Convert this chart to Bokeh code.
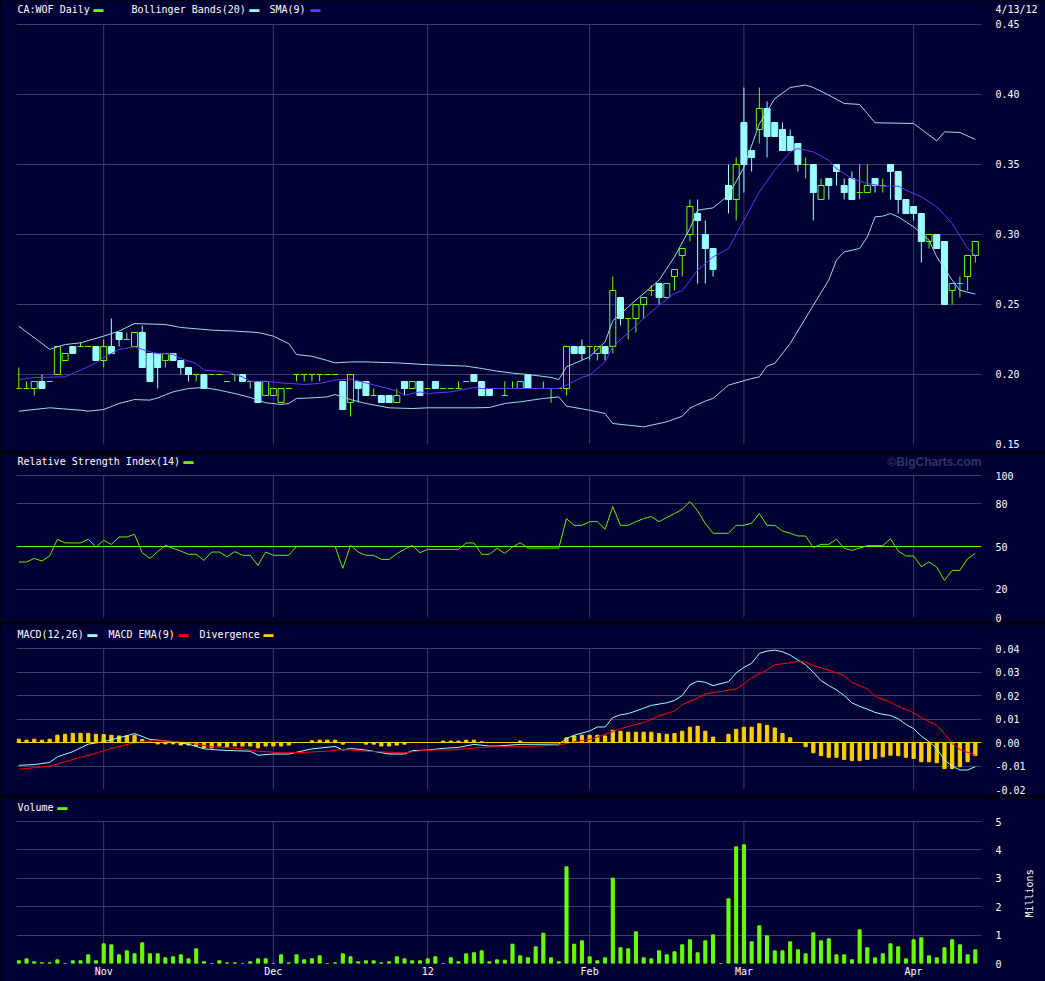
import numpy as np
from bokeh.plotting import figure
from bokeh.layouts import column
from bokeh.models import Range1d, FixedTicker, Span, Label, PrintfTickFormatter, LinearAxis
from bokeh.embed import file_html
from bokeh.resources import INLINE

# ---------------- data ----------------
# trading-day index (0 = Oct 17 2011 ... 124 = Apr 13 2012); day 91 had no trade
DAYS = [i for i in range(125) if i != 91]
OPEN = [.19,.19,.19,.195,.195,.20,.21,.22,.22,.22,.22,.21,.22,.23,.225,.22,.23,.215,.215,.21,
        .215,.21,.205,.20,.20,.20,.20,.195,.20,.20,.195,.195,.185,.185,.18,.19,.20,.20,.20,.20,
        .20,.20,.195,.18,.195,.195,.185,.185,.185,.18,.195,.19,.195,.19,.195,.19,.19,.19,.195,.20,
        .195,.19,.19,.185,.19,.19,.20,.19,.19,.19,.19,.19,.22,.22,.22,.215,.22,.22,.255,.24,
        .24,.25,.26,.265,.255,.27,.285,.30,.315,.30,.29,
        .335,.325,.38,.36,.375,.39,.38,.375,.37,.365,.35,.35,.325,.34,.35,.335,.34,.33,.33,.34,
        .335,.35,.345,.325,.32,.315,.295,.30,.295,.26,.265,.27,.285]
HIGH = [.205,.195,.195,.20,.195,.22,.215,.22,.223,.22,.22,.225,.24,.23,.23,.23,.235,.215,.215,.215,
        .215,.21,.205,.20,.20,.20,.20,.195,.20,.20,.195,.195,.195,.19,.19,.19,.20,.20,.20,.20,
        .20,.20,.195,.20,.195,.195,.19,.185,.185,.19,.195,.195,.195,.19,.195,.19,.19,.195,.195,.20,
        .195,.19,.19,.195,.195,.195,.20,.19,.195,.19,.19,.22,.22,.225,.22,.22,.22,.27,.255,.24,
        .25,.255,.264,.265,.265,.275,.29,.325,.325,.31,.29,
        .35,.355,.405,.36,.405,.395,.38,.38,.375,.365,.355,.35,.34,.34,.35,.34,.345,.35,.35,.34,
        .34,.35,.345,.325,.32,.315,.30,.30,.295,.265,.27,.285,.295]
LOW = [.19,.19,.185,.19,.195,.20,.21,.215,.22,.22,.21,.205,.215,.22,.225,.22,.205,.195,.19,.205,
       .21,.20,.195,.195,.19,.20,.20,.195,.195,.195,.19,.18,.185,.185,.18,.19,.195,.195,.195,.195,
       .20,.20,.175,.17,.18,.185,.185,.18,.18,.18,.185,.19,.185,.19,.19,.19,.19,.19,.195,.195,
       .185,.185,.19,.185,.19,.19,.19,.19,.19,.18,.19,.185,.215,.21,.21,.21,.21,.215,.235,.225,
       .23,.24,.256,.25,.255,.26,.27,.295,.265,.265,.27,
       .315,.31,.33,.345,.365,.355,.37,.36,.36,.345,.34,.31,.325,.325,.335,.325,.325,.325,.33,.33,
       .33,.325,.315,.315,.31,.28,.29,.29,.25,.25,.255,.26,.28]
CLOSE = [.19,.19,.195,.19,.195,.22,.215,.215,.22,.22,.21,.22,.215,.225,.225,.23,.205,.195,.205,.215,
         .21,.205,.20,.20,.19,.20,.20,.195,.20,.195,.195,.18,.195,.19,.19,.19,.20,.20,.20,.20,
         .20,.20,.175,.20,.19,.185,.185,.18,.18,.185,.19,.195,.185,.19,.19,.19,.19,.19,.195,.195,
         .185,.185,.19,.185,.19,.195,.19,.19,.19,.19,.19,.22,.215,.215,.22,.22,.215,.26,.24,.24,
         .25,.255,.26,.255,.265,.275,.29,.32,.31,.29,.275,
         .325,.35,.35,.355,.39,.37,.37,.36,.36,.35,.35,.33,.335,.335,.345,.33,.325,.33,.335,.335,
         .335,.345,.325,.315,.315,.295,.30,.29,.25,.265,.265,.285,.295]

BB_UPPER = [(0,.2345),(4,.218),(6,.2214),(8,.2226),(11,.2274),(13,.231),(15,.2364),(19,.2357),
            (21,.2336),(25,.2317),(28,.231),(31,.23),(33,.2274),(35,.222),(36,.2143),(38,.213),
            (40,.21),(41,.2083),(43,.209),(45,.209),(49,.2083),(53,.207),(58,.206),(60,.2043),
            (62,.2024),(64,.201),(66,.20),(69,.1979),(70,.1964),(71,.2055),(74,.2126),(76,.2233),
            (77,.2383),(79,.2483),(83,.2674),(85,.284),(87,.3043),(88,.3174),(90,.319),(92,.328),
            (94,.348),(96,.379),(98,.397),(100,.405),(102,.4067),(103,.405),(105,.3995),(107,.3936),
            (109,.3929),(110,.3864),(111,.3798),(116,.3793),(119,.3669),(120,.3733),(122,.3729),
            (124,.3679)]
BB_LOWER = [(0,.1738),(4,.1762),(8,.1745),(9,.1738),(11,.175),(13,.1793),(15,.1821),(17,.1817),
            (18,.1833),(20,.1876),(22,.19),(24,.1907),(26,.1888),(28,.1864),(30,.1836),(32,.1798),
            (34,.1786),(35,.1793),(36,.1829),(38,.1833),(40,.184),(41,.1857),(43,.1821),(45,.1793),
            (48,.1762),(51,.1757),(53,.1762),(59,.1762),(61,.1764),(63,.1793),(65,.1805),(68,.1829),
            (70,.184),(71,.1774),(74,.1745),(76,.1721),(77,.165),(79,.1638),(81,.1626),(84,.1662),
            (86,.1702),(87,.176),(89,.181),(90,.1829),(92,.1924),(95,.1971),(96,.1983),(97,.206),
            (98,.2079),(100,.2221),(103,.2495),(105,.2674),(106,.2817),(107,.2876),(109,.29),
            (110,.2983),(111,.3126),(112,.3131),(113,.315),(114,.3126),(116,.3055),(117,.3007),
            (118,.296),(119,.284),(121,.2674),(122,.2602),(124,.2574)]
SMA9 = [(0,.1964),(2,.1979),(6,.1983),(8,.2031),(10,.2083),(11,.2121),(13,.2179),(15,.2198),
        (17,.2162),(18,.215),(20,.2145),(21,.2114),(23,.2079),(24,.2031),(27,.2019),(29,.1983),
        (30,.1952),(32,.1952),(34,.194),(37,.1929),(39,.1936),(41,.196),(43,.1967),(45,.194),
        (47,.1912),(49,.1883),(50,.1852),(52,.1876),(53,.1864),(56,.1876),(59,.1907),(60,.19),
        (66,.19),(70,.19),(71,.1924),(73,.198),(74,.1995),(76,.209),(77,.2198),(81,.24),
        (83,.2495),(85,.2579),(86,.2598),(88,.2745),(90,.284),(92,.29),(94,.3102),(96,.3305),
        (98,.346),(100,.359),(101,.3614),(103,.359),(105,.353),(106,.3471),(108,.34),(110,.3364),
        (112,.3345),(114,.3345),(115,.3317),(117,.3269),(119,.3198),(121,.3079),(123,.29),
        (124,.2852)]

RSI = [(0,39.1),(1,39.1),(2,41.6),(3,39.8),(4,43.3),(5,55.1),(6,52.5),(7,52.5),(8,52.5),(9,55.1),
       (10,49.6),(11,54.4),(12,51.5),(13,56.7),(14,56.7),(15,58.6),(16,45.6),(17,41.6),(18,46.4),
       (19,50.8),(20,48.7),(21,46.8),(22,44.5),(23,44.5),(24,40.2),(25,46.1),(26,46.1),(27,42.8),
       (28,46.4),(29,43.8),(30,43.8),(31,36.7),(32,46.1),(33,43.8),(34,43.8),(35,43.8),(36,50.1),
       (41,50.1),(42,34.6),(43,50.8),(44,46.1),(45,43.8),(46,43.8),(47,40.9),(48,40.9),(49,44.9),
       (50,48.0),(51,50.8),(52,45.6),(53,48.0),(57,48.0),(58,52.5),(59,52.5),(60,44.5),(61,44.5),
       (62,48.7),(63,45.2),(64,49.6),(65,52.7),(66,48.9),(70,48.9),(71,69.6),(72,64.9),(73,64.9),
       (74,67.5),(75,67.5),(76,62.1),(77,78.1),(78,64.9),(79,64.9),(80,67.5),(81,69.6),(82,71.1),
       (83,67.5),(84,70.4),(85,73.2),(86,76.2),(87,81.6),(88,75.1),(89,66.1),(90,59.3),(92,59.3),
       (93,64.9),(94,64.9),(95,66.4),(96,73.2),(97,64.9),(98,64.9),(99,60.9),(100,59.3),(101,57.4),
       (102,57.4),(103,49.2),(104,51.5),(105,51.5),(106,55.1),(107,48.7),(108,47.3),(109,48.9),
       (110,50.6),(112,50.6),(113,55.5),(114,46.8),(115,43.3),(116,43.3),(117,35.8),(118,39.1),
       (119,35.5),(120,26.1),(121,33.2),(122,33.2),(123,41.4),(124,45.2)]
RSI_MID = 50

MACD = [(0,-.0097),(2,-.0094),(4,-.0085),(5,-.0061),(7,-.0039),(9,-.0007),(11,.0003),(13,.002),
        (15,.0038),(17,.0013),(19,.0007),(22,-.0007),(24,-.0027),(26,-.0032),(28,-.0035),
        (30,-.0037),(31,-.0054),(33,-.0049),(35,-.0049),(38,-.0027),(41,-.0017),(42,-.0032),
        (43,-.0025),(45,-.0032),(48,-.0049),(50,-.0049),(51,-.0035),(53,-.0032),(55,-.0025),
        (57,-.0021),(59,-.0008),(61,-.0015),(62,-.0015),(65,-.0008),(70,-.0007),(71,.0017),
        (72,.0031),(74,.0049),(75,.0066),(76,.0066),(77,.0106),(78,.0118),(79,.0123),(80,.0134),
        (81,.0146),(82,.0158),(84,.0169),(85,.0179),(86,.02),(87,.0245),(88,.0261),(89,.0256),
        (90,.0242),(92,.0259),(93,.0296),(94,.032),(95,.0337),(96,.0379),(97,.0389),(98,.0393),
        (99,.0386),(100,.0372),(101,.0351),(102,.033),(103,.0299),(104,.0263),(105,.0242),
        (106,.0224),(107,.02),(108,.0169),(109,.0154),(110,.0142),(111,.0128),(112,.012),
        (113,.0115),(114,.0101),(115,.0077),(116,.0059),(117,.0027),(118,.0003),(119,-.0025),
        (120,-.0075),(121,-.01),(122,-.0117),(123,-.0117),(124,-.0103)]
MACD_EMA = [(0,-.0114),(2,-.0107),(4,-.01),(5,-.0092),(8,-.0063),(10,-.0046),(12,-.0025),
            (15,-.0001),(17,.0007),(19,.0007),(22,-.0001),(25,-.0018),(29,-.0027),(31,-.0037),
            (34,-.0044),(37,-.0042),(40,-.0037),(42,-.003),(45,-.0037),(50,-.0044),(52,-.0035),
            (54,-.0032),(56,-.0032),(60,-.0021),(62,-.0018),(65,-.0018),(70,-.0011),(72,.0003),
            (74,.0013),(76,.0034),(78,.0059),(81,.0085),(83,.0113),(85,.0134),(86,.0161),
            (88,.0189),(89,.0207),(91,.0217),(93,.0228),(94,.0249),(95,.0275),(97,.0308),
            (98,.0331),(100,.0339),(101,.0345),(102,.0342),(103,.0328),(105,.0308),(107,.0285),
            (108,.0256),(110,.0228),(111,.0196),(113,.0172),(114,.0154),(116,.0127),(117,.0106),
            (119,.0073),(120,.0038),(121,-.0004),(122,-.003),(124,-.0054)]
DIVERGENCE = [.0014,.001,.0014,.001,.0014,.0031,.0035,.0039,.0039,.0039,
              .0035,.0034,.0031,.0028,.0028,.0031,.0013,.0002,-.0006,-.0006,
              -.0006,-.0011,-.0011,-.0015,-.0023,-.0023,-.0015,-.0018,-.0015,-.0015,
              -.0015,-.0023,-.0015,-.0015,-.0015,-.0011,0,0,.0007,.001,
              .001,.001,-.0007,0,0,-.0007,-.0007,-.0015,-.0015,-.0011,
              -.0007,0,0,0,0,.0006,.0006,.0006,.001,.001,
              .0003,0,0,0,0,.0006,0,0,0,0,
              0,.002,.0028,.0031,.0031,.0031,.0028,.0052,.0048,.0044,
              .0044,.0044,.0044,.0038,.0035,.0038,.0048,.0065,.0069,.0048,
              .0023,0,.0035,.0056,.0065,.0065,.008,.0073,.0062,.0038,
              .002,0,-.0018,-.0044,-.0056,-.0063,-.0063,-.0072,-.0077,-.0077,
              -.0072,-.0068,-.0061,-.0054,-.0056,-.0063,-.0068,-.0082,-.0082,-.0086,
              -.0111,-.0111,-.0103,-.0082,-.0056]
VOLUME_M = [.094,.164,.059,.023,.023,.129,0,.094,.094,.305,
            .094,.692,.657,.305,.446,.34,.728,.34,.34,.2,
            .235,.305,.164,.516,.059,0,.094,.023,.023,0,
            .059,.164,.164,0,.305,.023,.305,.129,.164,.27,
            0,.023,.34,.235,.059,.094,.094,.023,.059,.235,
            .164,.094,.094,.164,.235,0,.2,.059,.34,.376,
            .446,.059,.129,.117,.681,.27,.2,.587,1.068,.2,
            .059,3.404,.681,.798,.235,.094,.2,3.005,.552,.516,
            1.115,.2,.164,.446,.305,.411,.657,.833,.376,.798,
            1.009,0,2.277,4.108,4.178,.763,1.326,.974,.446,.446,
            .763,.481,.34,1.08,.798,.869,.305,.305,.129,1.185,
            .552,.2,.34,.692,.587,.164,.833,.904,.27,.2,
            .552,.833,.657,.305,.481]

MONTH_POS = [11, 33, 53, 74, 94, 116]
MONTH_LABELS = ["Nov", "Dec", "12", "Feb", "Mar", "Apr"]
PRICE_TICKS = [0.15, 0.20, 0.25, 0.30, 0.35, 0.40, 0.45]
LAST_DATE = "4/13/12"
RSI_TICKS = [0, 20, 50, 80, 100]
RSI_GRID = [0, 20, 80, 100]
MACD_TICKS = [-0.02, -0.01, 0.0, 0.01, 0.02, 0.03, 0.04]
VOL_TICKS = [0, 1, 2, 3, 4, 5]
VOL_UNIT = "Millions"

# ---------------- style ----------------
BG = "#000033"
GRID = "#3a3a6c"
GREEN = "#66ff00"
CYAN = "#99ffff"
BBCOL = "#99dde6"
PURPLE = "#6633ff"
RED = "#ff0000"
YELLOW = "#ffcc00"
WHITE = "#ffffff"
FONT = "DejaVu Sans Mono"

W = 1045
xr = Range1d(-0.3, 124.8)


def style_axis(a):
    a.axis_line_color = None
    a.major_tick_line_color = None
    a.minor_tick_line_color = None
    a.major_tick_out = 0
    a.major_tick_in = 0
    a.major_label_text_color = WHITE
    a.major_label_text_font = FONT
    a.major_label_text_font_size = "10px"


def make_fig(h, bottom, yr, yticks, ygrid, grid_span, fmt=None, xaxis=False):
    p = figure(width=W, height=h, x_range=xr, y_range=Range1d(*yr),
               output_backend="svg", toolbar_location=None,
               x_axis_location="below" if xaxis else None, y_axis_location="right",
               min_border_left=16, min_border_right=W - 981, min_border_top=0,
               min_border_bottom=bottom, background_fill_color=BG,
               border_fill_color=BG, outline_line_color=None)
    p.xgrid.visible = False
    ax = p.yaxis[0]
    ax.ticker = FixedTicker(ticks=yticks)
    if fmt:
        ax.formatter = PrintfTickFormatter(format=fmt)
    for a in p.axis:
        style_axis(a)
    ax.major_label_standoff = 14
    p.ygrid.ticker = FixedTicker(ticks=ygrid)
    p.ygrid.grid_line_color = GRID
    # vertical month grid lines, only across the plotted value range
    n = len(MONTH_POS)
    p.segment(x0=MONTH_POS, y0=[grid_span[0]] * n, x1=MONTH_POS, y1=[grid_span[1]] * n,
              color=GRID, line_width=1)
    if xaxis:
        xa = p.xaxis[0]
        xa.ticker = FixedTicker(ticks=MONTH_POS)
        xa.major_label_overrides = {k: v for k, v in zip(MONTH_POS, MONTH_LABELS)}
        xa.major_label_standoff = 2
    return p


def add_text(p, x, y, text, color=WHITE, size="10px", font=FONT, align="left",
             style="normal"):
    p.add_layout(Label(x=x, y=y, x_units="screen", y_units="screen", text=text,
                       text_color=color, text_font=font, text_font_size=size,
                       text_align=align, text_baseline="middle",
                       text_font_style=style))


def swatch(p, x, y, color):
    add_text(p, x, y - 1, "\u2501", color=color, size="16px")


# ---------------- price panel (canvas rows 0..451) ----------------
PPX = 1400.0  # pixels per price unit
p1 = make_fig(451, 7, (0.15, 0.15 + 444 / PPX), PRICE_TICKS + [0.15 + 435.3 / PPX],
              PRICE_TICKS, (0.15, 0.45), fmt="%.2f")
p1.yaxis[0].major_label_overrides = {0.15 + 435.3 / PPX: LAST_DATE}

d = np.array(DAYS, dtype=float)
o = np.array(OPEN); h = np.array(HIGH); l = np.array(LOW); c = np.array(CLOSE)
up = c > o + 1e-9
dn = c < o - 1e-9
flat = ~(up | dn)
btop = np.maximum(o, c)
bbot = np.minimum(o, c)
ccol = np.where(dn, CYAN, GREEN)
hw = 0.39

m = h > btop + 1e-9
p1.segment(x0=d[m], y0=btop[m], x1=d[m], y1=h[m], color=list(ccol[m]), line_width=1)
m = l < bbot - 1e-9
p1.segment(x0=d[m], y0=l[m], x1=d[m], y1=bbot[m], color=list(ccol[m]), line_width=1)
p1.vbar(x=d[up], top=c[up], bottom=o[up], width=2 * hw, fill_color=None,
        line_color=GREEN, line_width=1)
p1.vbar(x=d[dn], top=o[dn], bottom=c[dn], width=2 * hw, fill_color=CYAN,
        line_color=CYAN, line_width=1)
p1.segment(x0=d[flat] - hw, y0=o[flat], x1=d[flat] + hw, y1=o[flat], color=GREEN,
           line_width=1)

for pts, col in ((BB_UPPER, BBCOL), (BB_LOWER, BBCOL), (SMA9, PURPLE)):
    xs, ys = zip(*pts)
    p1.line(list(xs), list(ys), color=col, line_width=1)

add_text(p1, 1, 435, "CA:WOF Daily")
swatch(p1, 77, 435, GREEN)
add_text(p1, 115, 435, "Bollinger Bands(20)")
swatch(p1, 233, 435, CYAN)
add_text(p1, 253, 435, "SMA(9)")
swatch(p1, 294, 435, PURPLE)

# ---------------- RSI panel (rows 453..622) ----------------
RPX = 1.42
p2 = make_fig(169, 5, (0, 164 / RPX), RSI_TICKS, RSI_GRID, (0, 100))
p2.add_layout(Span(location=RSI_MID, dimension="width", line_color=GREEN, line_width=1))
xs, ys = zip(*RSI)
p2.line(list(xs), list(ys), color="#66ee00", line_width=1)
add_text(p2, 1, 156, "Relative Strength Index(14)")
swatch(p2, 167, 156, GREEN)
add_text(p2, 965, 156, "\u00a9BigCharts.com", color="#333366", size="12px",
         font="Liberation Sans", align="right", style="bold")

# ---------------- MACD panel (rows 624..795) ----------------
MPX = 2350.0
p3 = make_fig(171, 6, (-0.02, -0.02 + 165 / MPX), MACD_TICKS,
              [t for t in MACD_TICKS if t != 0.0], (-0.02, 0.04), fmt="%.2f")
all_days = np.arange(len(DIVERGENCE))
p3.vbar(x=all_days, top=DIVERGENCE, bottom=0, width=0.42, color=YELLOW)
p3.add_layout(Span(location=0, dimension="width", line_color=YELLOW, line_width=1))
xs, ys = zip(*MACD)
p3.line(list(xs), list(ys), color=CYAN, line_width=1)
xs, ys = zip(*MACD_EMA)
p3.line(list(xs), list(ys), color=RED, line_width=1)
add_text(p3, 1, 155, "MACD(12,26)")
swatch(p3, 71, 155, CYAN)
add_text(p3, 92, 155, "MACD EMA(9)")
swatch(p3, 162, 155, RED)
add_text(p3, 183, 155, "Divergence")
swatch(p3, 247, 155, YELLOW)

# ---------------- Volume panel (rows 797..981) ----------------
VPX = 28.4
p4 = make_fig(184, 18, (0, 166 / VPX), VOL_TICKS, VOL_TICKS, (0, 5), xaxis=True)
vd = np.arange(len(VOLUME_M))
p4.vbar(x=vd, top=VOLUME_M, bottom=0, width=0.4, color=GREEN)
add_text(p4, 1, 156, "Volume")
swatch(p4, 41, 156, GREEN)
# unit caption: rotated label of a second right-hand axis, anchored low so it reads upward
UNIT_AT = 46 / VPX
unit_axis = LinearAxis(ticker=FixedTicker(ticks=[UNIT_AT]),
                       major_label_overrides={UNIT_AT: VOL_UNIT})
style_axis(unit_axis)
unit_axis.major_label_orientation = np.pi / 2
unit_axis.major_label_standoff = 25
p4.add_layout(unit_axis, "right")

layout = column(p1, p2, p3, p4, spacing=2, styles={"background-color": "#000000"})

open("out.html", "w").write(file_html(layout, INLINE))
